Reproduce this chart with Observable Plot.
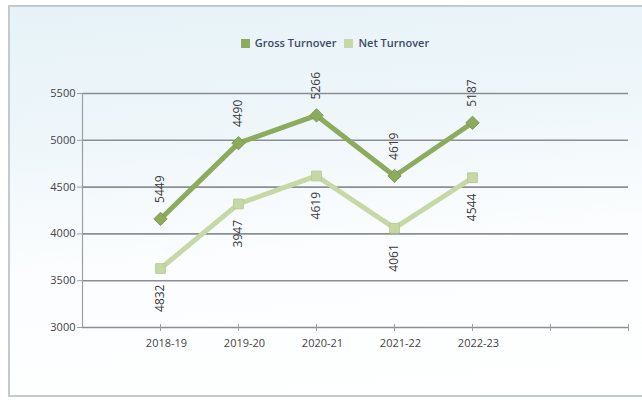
<!DOCTYPE html>
<html><head><meta charset="utf-8">
<script src="https://cdn.jsdelivr.net/npm/d3@7"></script>
<script src="https://cdn.jsdelivr.net/npm/@observablehq/plot@0.6"></script>
<style>
body{margin:0;width:642px;height:402px;overflow:hidden;font-family:"Open Sans",sans-serif;}
#frame{position:absolute;left:8px;top:5px;width:640px;height:392px;border:2px solid #c4c9cc;border-right:none;box-sizing:border-box;
background:linear-gradient(175deg,#e6f2f8 0%,#eef6fa 30%,#fbfdfe 60%,#ffffff 100%);}
#wrap{position:absolute;left:0;top:0;width:642px;height:402px;}
#legend{height:60px;display:flex;justify-content:center;align-items:flex-start;padding-top:35px;box-sizing:border-box;font-size:11px;font-weight:600;color:#3b4a66;padding-left:36px;}
#legend span.sw{display:inline-block;width:9px;height:9px;margin-right:5px;vertical-align:-1px;}
#legend .item{margin-right:8px;}
svg{display:block;}
</style></head>
<body>
<div id="frame"></div>
<div id="wrap">
<div id="legend"></div>
<div id="chart"></div>
</div>
<script>
const categories = ["2018-19","2019-20","2020-21","2021-22","2022-23"];
const grossValues = [4160, 4970, 5266, 4619, 5187];
const netValues = [3630, 4320, 4619, 4061, 4600];
const grossLabels = ["5449","4490","5266","4619","5187"];
const netLabels = ["4832","3947","4619","4061","4544"];
const yTicks = [3000,3500,4000,4500,5000,5500];
const seriesNames = ["Gross Turnover","Net Turnover"];
const colors = ["#8cab5c","#c6d8a6"];

const xDomain = ["_a", ...categories, "_b", "_c"];
const gross = categories.map((c,i)=>({cat:c, v:grossValues[i], label:grossLabels[i]}));
const net = categories.map((c,i)=>({cat:c, v:netValues[i], label:netLabels[i]}));

const legend = document.getElementById("legend");
seriesNames.forEach((n,i)=>{
  const it = document.createElement("span");
  it.className="item";
  it.innerHTML = `<span class="sw" style="background:${colors[i]}"></span>${n}`;
  legend.appendChild(it);
});

const chart = Plot.plot({
  width: 642,
  height: 342,
  marginLeft: 82,
  marginRight: 14,
  marginTop: 33,
  marginBottom: 75,
  style: {background: "transparent", fontFamily: "'Open Sans', sans-serif", fontSize: "11px", color: "#444"},
  x: {type: "point", domain: xDomain, padding: 0, axis: null},
  y: {domain: [3000, 5500], axis: null},
  marks: [
    Plot.ruleY(yTicks, {stroke: "#8a8f92", strokeWidth: 1.6}),
    Plot.ruleX([xDomain[0]], {y1: 3000, y2: 5500, stroke: "#9aa0a3", strokeWidth: 1.2}),
    Plot.ruleY(yTicks, {x1: () => xDomain[0], x2: () => xDomain[0], insetLeft: -5, stroke: "#9aa0a3", strokeWidth: 1}),
    Plot.text(yTicks, {x: () => xDomain[0], y: d=>d, text: d=>String(d), textAnchor: "end", dx: -7, fill: "#444", fontSize: 11}),
    Plot.ruleX(xDomain.slice(1), {y1: () => 3000, y2: () => 3000, insetTop: -3, insetBottom: -4, stroke: "#9aa0a3", strokeWidth: 1}),
    Plot.text(categories, {x: d=>d, y: () => 3000, text: d=>d, dy: 16, dx: 6, fill: "#444", fontSize: 11}),
    Plot.line(net, {x: "cat", y: "v", stroke: colors[1], strokeWidth: 5}),
    Plot.dot(net, {x: "cat", y: "v", symbol: "square", r: 5.5, fill: colors[1], stroke: "#b9cc98", strokeWidth: 1}),
    Plot.line(gross, {x: "cat", y: "v", stroke: colors[0], strokeWidth: 5}),
    Plot.dot(gross, {x: "cat", y: "v", symbol: "diamond2", r: 6, fill: colors[0], stroke: "#7d9b50", strokeWidth: 1}),
    Plot.text(gross, {x: "cat", y: "v", text: "label", rotate: -90, textAnchor: "start", lineAnchor: "middle", dy: -16, fill: "#3a3a3a", fontSize: 12}),
    Plot.text(net, {x: "cat", y: "v", text: "label", rotate: -90, textAnchor: "end", lineAnchor: "middle", dy: 16, fill: "#3a3a3a", fontSize: 12})
  ]
});
document.getElementById("chart").appendChild(chart);
</script>
</body></html>
